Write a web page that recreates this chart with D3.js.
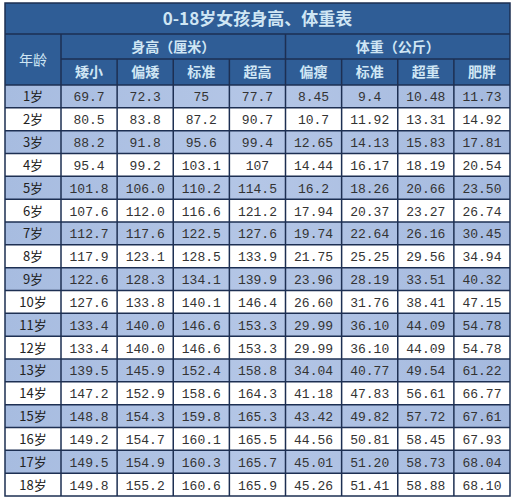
<!DOCTYPE html>
<html lang="zh">
<head>
<meta charset="UTF-8">
<script src="https://d3js.org/d3.v7.min.js"></script>
<style>
  body { margin: 0; background: #fff; }
  svg { display: block; }
  .cjk { font-family: "Noto Sans CJK SC", sans-serif; }
  .num { font-family: "Liberation Mono", "DejaVu Sans Mono", monospace; }
</style>
</head>
<body>
<svg id="chart" width="514" height="500"></svg>
<script>
const title = "0-18岁女孩身高、体重表";
const groups = ["身高（厘米）", "体重（公斤）"];
const columns = ["矮小", "偏矮", "标准", "超高", "偏瘦", "标准", "超重", "肥胖"];
const ages = ["1岁","2岁","3岁","4岁","5岁","6岁","7岁","8岁","9岁","10岁","11岁","12岁","13岁","14岁","15岁","16岁","17岁","18岁"];
const heights = [
  ["69.7","72.3","75","77.7"],
  ["80.5","83.8","87.2","90.7"],
  ["88.2","91.8","95.6","99.4"],
  ["95.4","99.2","103.1","107"],
  ["101.8","106.0","110.2","114.5"],
  ["107.6","112.0","116.6","121.2"],
  ["112.7","117.6","122.5","127.6"],
  ["117.9","123.1","128.5","133.9"],
  ["122.6","128.3","134.1","139.9"],
  ["127.6","133.8","140.1","146.4"],
  ["133.4","140.0","146.6","153.3"],
  ["133.4","140.0","146.6","153.3"],
  ["139.5","145.9","152.4","158.8"],
  ["147.2","152.9","158.6","164.3"],
  ["148.8","154.3","159.8","165.3"],
  ["149.2","154.7","160.1","165.5"],
  ["149.5","154.9","160.3","165.7"],
  ["149.8","155.2","160.6","165.9"]
];
const weights = [
  ["8.45","9.4","10.48","11.73"],
  ["10.7","11.92","13.31","14.92"],
  ["12.65","14.13","15.83","17.81"],
  ["14.44","16.17","18.19","20.54"],
  ["16.2","18.26","20.66","23.50"],
  ["17.94","20.37","23.27","26.74"],
  ["19.74","22.64","26.16","30.45"],
  ["21.75","25.25","29.56","34.94"],
  ["23.96","28.19","33.51","40.32"],
  ["26.60","31.76","38.41","47.15"],
  ["29.99","36.10","44.09","54.78"],
  ["29.99","36.10","44.09","54.78"],
  ["34.04","40.77","49.54","61.22"],
  ["41.18","47.83","56.61","66.77"],
  ["43.42","49.82","57.72","67.61"],
  ["44.56","50.81","58.45","67.93"],
  ["45.01","51.20","58.73","68.04"],
  ["45.26","51.41","58.88","68.10"]
];

const svg = d3.select("#chart");
const left = 5, right = 510, ageW = 56;
const topY = 3, titleH = 31, h1 = 25, h2 = 26, bottomY = 496;
const headBlue = "#2f5d96", headText = "#cfe6f4", line = "#1d2f52";

const defs = svg.append("defs");
const grad = defs.append("linearGradient").attr("id", "rowg");
grad.append("stop").attr("offset", "0%").attr("stop-color", "#a7bce0");
grad.append("stop").attr("offset", "50%").attr("stop-color", "#b4c6e6");
grad.append("stop").attr("offset", "100%").attr("stop-color", "#a4b9de");

const x = d3.scaleBand().domain(d3.range(columns.length)).range([left + ageW, right]);
const dataTop = topY + titleH + h1 + h2;
const y = d3.scaleBand().domain(ages).range([dataTop, bottomY]);

// header background
svg.append("rect").attr("x", left).attr("y", topY).attr("width", right - left)
  .attr("height", dataTop - topY).attr("fill", headBlue);
svg.append("text").attr("class", "cjk").attr("x", (left + right) / 2).attr("y", topY + titleH / 2 + 6)
  .attr("text-anchor", "middle").attr("font-size", 17).attr("font-weight", "bold")
  .attr("fill", headText).text(title);
svg.append("text").attr("class", "cjk").attr("x", left + ageW / 2).attr("y", topY + titleH + (h1 + h2) / 2 + 5)
  .attr("text-anchor", "middle").attr("font-size", 14).attr("fill", headText).text("年龄");
groups.forEach((g, i) => {
  const x0 = x(i * 4), x1 = x(i * 4 + 3) + x.bandwidth();
  svg.append("text").attr("class", "cjk").attr("x", (x0 + x1) / 2).attr("y", topY + titleH + h1 / 2 + 5)
    .attr("text-anchor", "middle").attr("font-size", 14).attr("font-weight", "bold")
    .attr("fill", headText).text(g);
});
svg.selectAll("text.col").data(columns).join("text").attr("class", "cjk col")
  .attr("x", (d, i) => x(i) + x.bandwidth() / 2).attr("y", topY + titleH + h1 + h2 / 2 + 5)
  .attr("text-anchor", "middle").attr("font-size", 14).attr("font-weight", "bold")
  .attr("fill", headText).text(d => d);

// data rows
const rows = svg.selectAll("g.row").data(ages).join("g").attr("class", "row")
  .attr("transform", d => `translate(0,${y(d)})`);
rows.append("rect").attr("x", left).attr("width", right - left).attr("height", y.bandwidth())
  .attr("fill", (d, i) => i % 2 === 0 ? "url(#rowg)" : "#ffffff");
rows.append("text").attr("class", "cjk").attr("x", left + ageW / 2).attr("y", y.bandwidth() / 2 + 5)
  .attr("text-anchor", "middle").attr("font-size", 13).attr("fill", "#222").text(d => d);
rows.each(function (d, r) {
  const vals = heights[r].concat(weights[r]);
  d3.select(this).selectAll("text.v").data(vals).join("text").attr("class", "num v")
    .attr("x", (v, i) => x(i) + x.bandwidth() / 2).attr("y", y.bandwidth() / 2 + 5)
    .attr("text-anchor", "middle").attr("font-size", 13).attr("fill", "#333").text(v => v);
});

// grid lines
const g = svg.append("g").attr("stroke", line).attr("stroke-width", 1.5).attr("fill", "none");
g.append("rect").attr("x", left).attr("y", topY).attr("width", right - left).attr("height", bottomY - topY);
g.append("line").attr("x1", left).attr("x2", right).attr("y1", topY + titleH).attr("y2", topY + titleH);
g.append("line").attr("x1", left + ageW).attr("x2", right).attr("y1", topY + titleH + h1).attr("y2", topY + titleH + h1);
ages.forEach(a => g.append("line").attr("x1", left).attr("x2", right).attr("y1", y(a)).attr("y2", y(a)));
g.append("line").attr("x1", left + ageW).attr("x2", left + ageW).attr("y1", topY + titleH).attr("y2", bottomY);
d3.range(1, columns.length).forEach(i => {
  const y0 = i === 4 ? topY + titleH : topY + titleH + h1;
  g.append("line").attr("x1", x(i)).attr("x2", x(i)).attr("y1", y0).attr("y2", bottomY);
});
</script>
</body>
</html>
